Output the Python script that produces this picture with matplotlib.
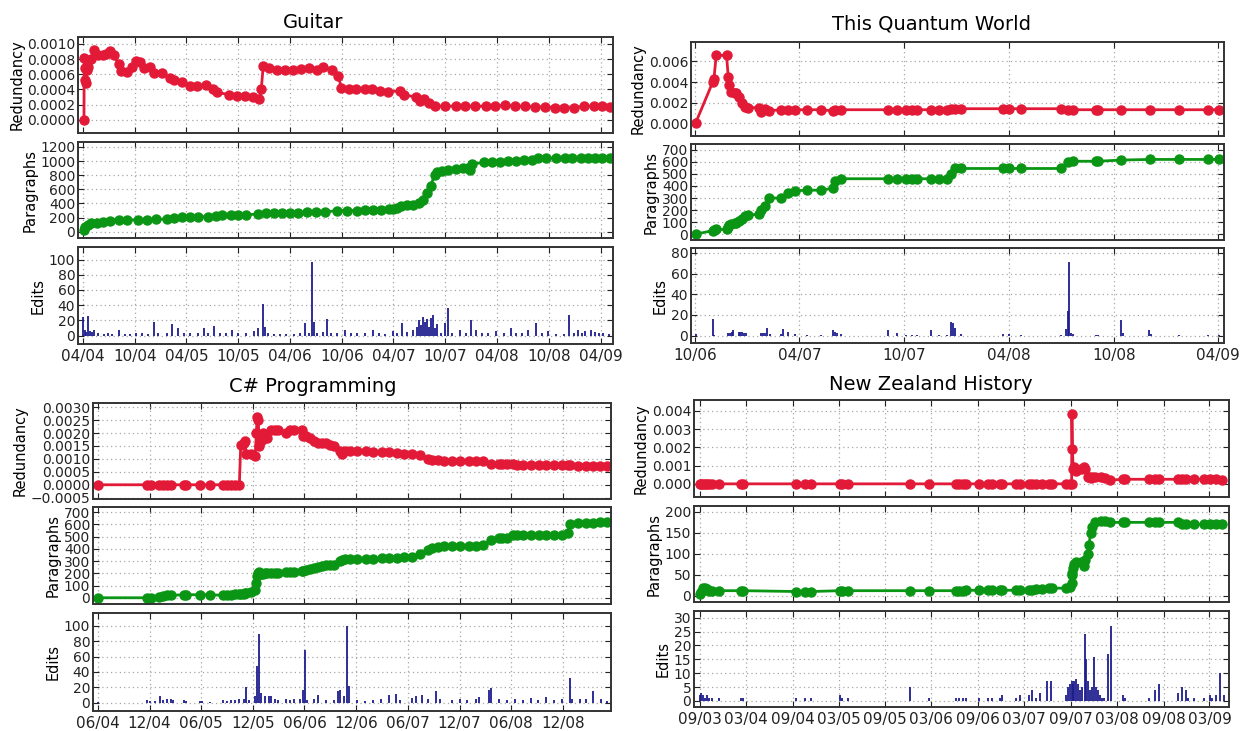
import matplotlib
matplotlib.use('Agg')
import matplotlib.pyplot as plt
import matplotlib.dates as mdates
import matplotlib.ticker as ticker
import pandas as pd

plt.rcParams['font.family'] = 'DejaVu Sans'

W, H = 1253, 731
RED = '#e31a37'
GREEN = '#0a9614'
BLUE = '#1c1c8e'

# ---------------- Guitar ----------------
guitar_red_dates = ['2004-04-05', '2004-04-06', '2004-04-08', '2004-04-10', '2004-04-12', '2004-04-15',
                    '2004-04-20', '2004-04-29', '2004-05-12', '2004-05-26', '2004-06-10', '2004-06-23',
                    '2004-07-07', '2004-07-21', '2004-08-05', '2004-08-12', '2004-09-02', '2004-09-23',
                    '2004-10-07', '2004-10-21', '2004-11-04', '2004-11-25', '2004-12-09', '2005-01-06',
                    '2005-02-04', '2005-02-18', '2005-03-16', '2005-04-13', '2005-05-10', '2005-06-08',
                    '2005-07-05', '2005-07-19', '2005-08-31', '2005-09-28', '2005-10-25', '2005-11-23',
                    '2005-12-14', '2005-12-21', '2005-12-28', '2006-01-18', '2006-02-16', '2006-03-15',
                    '2006-04-11', '2006-05-09', '2006-06-06', '2006-07-04', '2006-07-25', '2006-08-29',
                    '2006-09-19', '2006-09-29', '2006-10-25', '2006-11-21', '2006-12-20', '2007-01-17',
                    '2007-02-14', '2007-03-12', '2007-04-23', '2007-05-07', '2007-06-18', '2007-07-02',
                    '2007-07-16', '2007-08-06', '2007-08-27', '2007-10-01', '2007-11-06', '2007-12-10',
                    '2008-01-15', '2008-02-20', '2008-03-24', '2008-04-28', '2008-06-02', '2008-07-07',
                    '2008-08-11', '2008-09-15', '2008-10-20', '2008-11-24', '2008-12-29', '2009-02-02',
                    '2009-03-08', '2009-04-05', '2009-05-03']
guitar_red = [0.0, 0.00082, 0.00068, 0.00052, 0.00048, 0.00066,
              0.00070, 0.00080, 0.00092, 0.00085, 0.00085, 0.00086,
              0.00090, 0.00085, 0.00073, 0.00064, 0.00063, 0.00070,
              0.00077, 0.00076, 0.00068, 0.00070, 0.00062, 0.00062,
              0.00055, 0.00052, 0.00050, 0.00045, 0.00045, 0.00046,
              0.00040, 0.00036, 0.00033, 0.00031, 0.00031, 0.00030,
              0.00027, 0.00040, 0.00071, 0.00068, 0.00066, 0.00066,
              0.00066, 0.00067, 0.00068, 0.00066, 0.00070, 0.00066,
              0.00058, 0.00042, 0.00040, 0.00040, 0.00040, 0.00040,
              0.00038, 0.00037, 0.00038, 0.00033, 0.00030, 0.00025,
              0.00027, 0.00022, 0.00018, 0.00018, 0.00018, 0.00018,
              0.00018, 0.00018, 0.00018, 0.00019, 0.00018, 0.00018,
              0.00017, 0.00017, 0.00016, 0.00016, 0.00016, 0.00018,
              0.00018, 0.00018, 0.00017]

guitar_par_dates = ['2004-04-05', '2004-04-08', '2004-04-18', '2004-04-29', '2004-05-20', '2004-06-10',
                    '2004-07-05', '2004-08-05', '2004-09-05', '2004-10-14', '2004-11-15', '2004-12-15',
                    '2005-01-21', '2005-02-18', '2005-03-15', '2005-04-15', '2005-05-13', '2005-06-15',
                    '2005-07-15', '2005-08-05', '2005-09-05', '2005-10-01', '2005-10-28', '2005-12-09',
                    '2006-01-06', '2006-02-05', '2006-03-05', '2006-04-01', '2006-04-28', '2006-06-01',
                    '2006-07-01', '2006-08-04', '2006-09-15', '2006-10-20', '2006-11-24', '2006-12-20',
                    '2007-01-20', '2007-02-16', '2007-03-15', '2007-03-30', '2007-04-13', '2007-04-27',
                    '2007-05-20', '2007-06-08', '2007-06-29', '2007-07-13', '2007-07-27', '2007-08-10',
                    '2007-08-24', '2007-08-31', '2007-09-20', '2007-10-12', '2007-11-09', '2007-12-01',
                    '2007-12-21', '2007-12-26', '2008-01-04', '2008-02-15', '2008-03-15', '2008-04-11',
                    '2008-05-10', '2008-06-06', '2008-07-05', '2008-08-01', '2008-08-22', '2008-09-20',
                    '2008-10-24', '2008-11-25', '2008-12-20', '2009-01-20', '2009-02-15', '2009-03-12',
                    '2009-04-05', '2009-05-03']
guitar_par = [30, 70, 100, 120, 130, 140,
              150, 160, 165, 170, 172, 175,
              180, 200, 202, 205, 210, 215,
              222, 230, 232, 236, 240, 250,
              270, 270, 270, 270, 270, 272,
              275, 280, 300, 300, 300, 305,
              308, 310, 315, 320, 330, 370,
              375, 380, 400, 450, 550, 650,
              800, 850, 860, 870, 890, 895,
              900, 880, 960, 980, 985, 990,
              995, 1000, 1010, 1020, 1040, 1042,
              1045, 1045, 1048, 1048, 1050, 1050,
              1048, 1040]

guitar_edit_dates = ['2004-04-02', '2004-04-08', '2004-04-13', '2004-04-20', '2004-04-26', '2004-05-03',
                     '2004-05-12', '2004-05-26', '2004-06-16', '2004-06-30', '2004-07-14', '2004-08-05',
                     '2004-08-26', '2004-09-16', '2004-10-07', '2004-10-28', '2004-11-18', '2004-12-09',
                     '2004-12-23', '2005-01-21', '2005-02-11', '2005-03-04', '2005-03-25', '2005-04-15',
                     '2005-05-13', '2005-06-03', '2005-06-17', '2005-07-08', '2005-07-29', '2005-08-19',
                     '2005-09-10', '2005-09-30', '2005-10-28', '2005-11-25', '2005-12-09', '2005-12-26',
                     '2006-01-03', '2006-01-13', '2006-02-03', '2006-02-24', '2006-03-17', '2006-04-14',
                     '2006-05-05', '2006-05-23', '2006-06-09', '2006-06-19', '2006-06-26', '2006-07-07',
                     '2006-07-28', '2006-08-11', '2006-08-25', '2006-09-15', '2006-10-13', '2006-11-03',
                     '2006-11-24', '2006-12-22', '2007-01-19', '2007-02-09', '2007-03-02', '2007-03-30',
                     '2007-04-13', '2007-05-01', '2007-05-18', '2007-06-08', '2007-06-22', '2007-06-29',
                     '2007-07-06', '2007-07-13', '2007-07-20', '2007-07-27', '2007-08-03', '2007-08-10',
                     '2007-08-17', '2007-08-24', '2007-08-31', '2007-09-14', '2007-10-01', '2007-10-12',
                     '2007-10-26', '2007-11-23', '2007-12-14', '2007-12-31', '2008-01-18', '2008-02-08',
                     '2008-02-29', '2008-03-28', '2008-04-25', '2008-05-19', '2008-06-06', '2008-06-27',
                     '2008-07-18', '2008-08-15', '2008-09-05', '2008-09-26', '2008-10-24', '2008-11-21',
                     '2008-12-09', '2008-12-26', '2009-01-09', '2009-01-23', '2009-02-06', '2009-02-26',
                     '2009-03-12', '2009-03-26', '2009-04-09', '2009-04-30']
guitar_edits = [25, 8, 5, 26, 6, 5,
                7, 3, 2, 3, 2, 7,
                2, 2, 3, 4, 2, 18,
                3, 3, 15, 10, 4, 3,
                3, 10, 4, 13, 4, 3,
                8, 3, 3, 6, 10, 41,
                12, 4, 2, 2, 2, 2,
                3, 16, 3, 97, 18, 4,
                5, 22, 4, 3, 8, 3,
                4, 3, 8, 3, 2, 6,
                3, 16, 5, 8, 12, 20,
                14, 24, 18, 22, 12, 23,
                27, 10, 15, 4, 16, 36,
                4, 8, 3, 21, 8, 3,
                3, 6, 3, 10, 4, 3,
                8, 16, 3, 6, 2, 2,
                27, 3, 8, 3, 6, 8,
                5, 3, 4, 2]

# ---------------- This Quantum World ----------------
qw_dates = ['2006-10-02', '2006-11-01', '2006-11-03', '2006-11-07', '2006-11-25', '2006-11-28',
            '2006-11-30', '2006-12-02', '2006-12-09', '2006-12-12', '2006-12-16', '2006-12-22',
            '2006-12-27', '2007-01-02', '2007-01-20', '2007-01-24', '2007-01-31', '2007-02-07',
            '2007-02-28', '2007-03-12', '2007-03-24', '2007-04-14', '2007-05-08', '2007-05-29',
            '2007-06-02', '2007-06-13', '2007-09-03', '2007-09-19', '2007-10-05', '2007-10-15',
            '2007-10-24', '2007-11-16', '2007-12-01', '2007-12-14', '2007-12-21', '2007-12-28',
            '2008-01-08', '2008-03-22', '2008-03-31', '2008-04-22', '2008-07-01', '2008-07-12',
            '2008-07-22', '2008-08-30', '2008-09-04', '2008-10-14', '2008-12-03', '2009-01-23',
            '2009-03-14', '2009-04-03']
qw_red = [0.0, 0.0040, 0.0043, 0.0066, 0.0066, 0.0045,
          0.0037, 0.0030, 0.0029, 0.0029, 0.0025, 0.0020,
          0.0016, 0.0015, 0.0015, 0.0011, 0.0014, 0.0012,
          0.0013, 0.0013, 0.0013, 0.0013, 0.0013, 0.0012,
          0.0013, 0.0013, 0.0013, 0.0013, 0.0013, 0.0013,
          0.0013, 0.0013, 0.0013, 0.0013, 0.0014, 0.0014,
          0.0014, 0.0014, 0.0014, 0.0014, 0.0014, 0.0013,
          0.0013, 0.0013, 0.0013, 0.0013, 0.0013, 0.0013,
          0.0013, 0.0013]
qw_par = [0, 30, 35, 40, 40, 60,
          75, 85, 90, 90, 110, 130,
          150, 160, 165, 200, 230, 300,
          300, 340, 360, 365, 365, 380,
          440, 460, 460, 460, 460, 460,
          460, 460, 460, 460, 500, 545,
          545, 545, 545, 545, 545, 600,
          605, 605, 605, 615, 620, 620,
          620, 620]
qw_edit_dates = ['2006-10-02', '2006-11-01', '2006-11-04', '2006-11-28', '2006-12-01', '2006-12-04',
                 '2006-12-07', '2006-12-16', '2006-12-19', '2006-12-22', '2006-12-26', '2006-12-29',
                 '2007-01-24', '2007-01-28', '2007-01-31', '2007-02-03', '2007-02-09', '2007-02-28',
                 '2007-03-03', '2007-03-12', '2007-03-24', '2007-04-14', '2007-05-08', '2007-05-29',
                 '2007-06-02', '2007-06-06', '2007-06-13', '2007-09-03', '2007-09-19', '2007-10-05',
                 '2007-10-15', '2007-10-24', '2007-11-16', '2007-12-01', '2007-12-14', '2007-12-21',
                 '2007-12-25', '2007-12-28', '2008-01-08', '2008-03-22', '2008-03-31', '2008-04-22',
                 '2008-07-01', '2008-07-09', '2008-07-12', '2008-07-15', '2008-07-18', '2008-07-22',
                 '2008-08-30', '2008-09-04', '2008-10-14', '2008-10-16', '2008-12-02', '2008-12-05',
                 '2009-01-23', '2009-03-14', '2009-04-03']
qw_edits = [2, 16, 1, 3, 3, 4,
            5, 4, 4, 4, 3, 3,
            3, 3, 3, 7, 2, 2,
            6, 4, 2, 1, 1, 5,
            4, 3, 2, 5, 3, 1,
            1, 1, 5, 1, 1, 13,
            12, 7, 2, 2, 2, 1,
            1, 6, 24, 71, 3, 2,
            1, 1, 15, 3, 5, 2,
            1, 1, 1]

# ---------------- C# Programming ----------------
cs_dates = ['2004-06-03', '2004-11-22', '2004-12-06', '2005-01-03', '2005-01-17', '2005-01-31',
            '2005-02-14', '2005-04-02', '2005-04-09', '2005-05-27', '2005-07-01', '2005-08-19',
            '2005-09-02', '2005-09-16', '2005-09-30', '2005-10-14', '2005-10-19', '2005-10-31',
            '2005-11-04', '2005-11-06', '2005-11-25', '2005-12-09', '2005-12-13', '2005-12-16',
            '2005-12-20', '2005-12-23', '2005-12-26', '2005-12-30', '2006-01-06', '2006-01-13',
            '2006-01-20', '2006-02-03', '2006-02-17', '2006-03-01', '2006-03-29', '2006-04-12',
            '2006-04-26', '2006-05-24', '2006-05-27', '2006-06-08', '2006-06-21', '2006-07-03',
            '2006-07-18', '2006-08-01', '2006-08-15', '2006-08-30', '2006-09-13', '2006-10-03',
            '2006-10-10', '2006-10-24', '2006-11-10', '2006-12-05', '2007-01-05', '2007-01-30',
            '2007-03-01', '2007-03-25', '2007-04-25', '2007-05-20', '2007-06-17', '2007-07-14',
            '2007-08-12', '2007-08-25', '2007-09-15', '2007-10-06', '2007-11-05', '2007-12-01',
            '2008-01-02', '2008-01-27', '2008-02-23', '2008-03-21', '2008-04-18', '2008-04-30',
            '2008-05-16', '2008-06-06', '2008-06-20', '2008-07-11', '2008-08-10', '2008-09-05',
            '2008-10-02', '2008-10-30', '2008-11-28', '2008-12-18', '2008-12-25', '2009-01-22',
            '2009-02-18', '2009-03-17', '2009-04-10', '2009-05-05']
cs_red = [0.0, 0.0, 0.0, 0.0, 0.0, 0.0,
          0.0, 0.0, 0.0, 0.0, 0.0, 0.0,
          0.0, 0.0, 0.0, 0.0, 0.00155, 0.0016,
          0.0017, 0.0012, 0.0012, 0.0011, 0.0020, 0.0026,
          0.0025, 0.0015, 0.0019, 0.0017, 0.0020, 0.0018,
          0.0018, 0.0021, 0.0021, 0.0021, 0.0020, 0.0021,
          0.0021, 0.0021, 0.0019, 0.0019, 0.0018, 0.0017,
          0.0016, 0.0016, 0.0016, 0.00155, 0.0015, 0.0013,
          0.0012, 0.0013, 0.0013, 0.0013, 0.0013, 0.00125,
          0.00125, 0.00125, 0.00122, 0.0012, 0.0012, 0.00115,
          0.0010, 0.00095, 0.00094, 0.00093, 0.00093, 0.00093,
          0.00092, 0.00092, 0.0009, 0.0008, 0.0008, 0.0008,
          0.0008, 0.0008, 0.00078, 0.00078, 0.00078, 0.00078,
          0.00078, 0.00078, 0.00078, 0.00078, 0.00075, 0.00074,
          0.00074, 0.00073, 0.00073, 0.00072]
cs_par = [0, 0, 0, 10, 15, 20,
          20, 25, 25, 25, 25, 20,
          22, 25, 28, 30, 32, 33,
          35, 38, 45, 60, 120, 180,
          200, 215, 205, 195, 198, 200,
          200, 202, 203, 205, 208, 209,
          210, 220, 222, 228, 235, 242,
          250, 258, 265, 268, 270, 300,
          310, 315, 315, 315, 318, 320,
          322, 325, 328, 330, 330, 360,
          390, 410, 415, 420, 420, 420,
          420, 420, 435, 470, 490, 490,
          490, 515, 515, 515, 515, 515,
          515, 515, 515, 530, 600, 610,
          612, 615, 618, 620]
cs_edit_dates = ['2004-06-03', '2004-11-22', '2004-12-02', '2004-12-20', '2005-01-08', '2005-01-17',
                 '2005-01-31', '2005-02-14', '2005-02-21', '2005-04-02', '2005-04-09', '2005-05-27',
                 '2005-06-03', '2005-07-01', '2005-08-19', '2005-09-02', '2005-09-16', '2005-09-30',
                 '2005-10-14', '2005-10-31', '2005-11-06', '2005-11-18', '2005-12-09', '2005-12-16',
                 '2005-12-23', '2005-12-30', '2006-01-13', '2006-01-27', '2006-02-03', '2006-02-17',
                 '2006-03-01', '2006-03-29', '2006-04-12', '2006-04-26', '2006-05-17', '2006-05-27',
                 '2006-06-03', '2006-06-10', '2006-07-04', '2006-07-18', '2006-08-15', '2006-09-13',
                 '2006-09-27', '2006-10-05', '2006-10-17', '2006-10-31', '2006-11-07', '2006-12-05',
                 '2007-01-02', '2007-01-30', '2007-02-27', '2007-03-25', '2007-04-22', '2007-05-06',
                 '2007-06-17', '2007-07-01', '2007-07-21', '2007-08-12', '2007-09-08', '2007-09-22',
                 '2007-11-03', '2007-12-01', '2007-12-29', '2008-01-27', '2008-02-09', '2008-03-15',
                 '2008-03-21', '2008-04-18', '2008-05-16', '2008-06-13', '2008-07-11', '2008-08-08',
                 '2008-09-04', '2008-10-02', '2008-10-30', '2008-11-28', '2008-12-25', '2009-01-01',
                 '2009-01-29', '2009-02-19', '2009-03-17', '2009-04-14', '2009-05-05']
cs_edits = [1, 3, 2, 2, 9, 3,
            4, 4, 3, 3, 2, 2,
            2, 1, 3, 2, 3, 3,
            4, 4, 20, 3, 8, 48,
            89, 12, 8, 8, 9, 5,
            3, 4, 3, 5, 5, 17,
            68, 3, 5, 10, 3, 3,
            15, 16, 8, 100, 21, 3,
            2, 3, 4, 10, 11, 3,
            6, 8, 10, 4, 15, 5,
            3, 4, 3, 4, 7, 17,
            19, 4, 3, 4, 3, 6,
            3, 7, 3, 5, 32, 4,
            5, 4, 15, 4, 2]

# ---------------- New Zealand History ----------------
nz_dates = ['2003-09-02', '2003-09-06', '2003-09-14', '2003-09-21', '2003-09-29', '2003-10-07',
            '2003-10-20', '2003-11-16', '2004-02-12', '2004-02-20', '2004-09-14', '2004-10-20',
            '2004-11-12', '2005-03-07', '2005-03-15', '2005-04-05', '2005-12-08', '2006-02-21',
            '2006-06-08', '2006-06-19', '2006-07-02', '2006-07-17', '2006-09-05', '2006-10-09',
            '2006-10-28', '2006-11-26', '2006-12-04', '2007-01-30', '2007-02-14', '2007-03-19',
            '2007-04-01', '2007-04-17', '2007-05-11', '2007-06-08', '2007-06-20', '2007-08-15',
            '2007-08-31', '2007-09-05', '2007-09-06', '2007-09-08', '2007-09-11', '2007-09-16',
            '2007-09-24', '2007-10-10', '2007-10-22', '2007-10-29', '2007-11-08', '2007-11-12',
            '2007-11-19', '2007-11-26', '2007-12-05', '2007-12-29', '2008-01-14', '2008-02-02',
            '2008-03-25', '2008-04-02', '2008-07-07', '2008-07-31', '2008-08-16', '2008-10-27',
            '2008-11-12', '2008-11-28', '2008-12-30', '2009-02-08', '2009-03-02', '2009-03-26',
            '2009-04-19']
nz_red = [0.0, 0.0, 0.0, 0.0, 0.0, 0.0,
          0.0, 0.0, 0.0, 0.0, 0.0, 0.0,
          0.0, 0.0, 0.0, 0.0, 0.0, 0.0,
          0.0, 0.0, 0.0, 0.0, 0.0, 0.0,
          0.0, 0.0, 0.0, 0.0, 0.0, 0.0,
          0.0, 0.0, 0.0, 0.0, 0.0, 0.0,
          0.0, 0.0, 0.0038, 0.0019, 0.0008, 0.0009,
          0.0007, 0.0008, 0.0009, 0.0008, 0.0004, 0.00035,
          0.0003, 0.00035, 0.0004, 0.00035, 0.0003, 0.0002,
          0.00025, 0.00025, 0.00025, 0.00025, 0.00025, 0.00025,
          0.00025, 0.00025, 0.00025, 0.00025, 0.00025, 0.00025,
          0.0002]
nz_par = [5, 10, 18, 18, 15, 12,
          12, 12, 12, 12, 10, 10,
          10, 12, 12, 12, 12, 12,
          12, 12, 12, 13, 13, 13,
          13, 13, 13, 13, 13, 13,
          14, 15, 16, 18, 18, 18,
          20, 30, 50, 55, 65, 75,
          80, 80, 70, 85, 100, 120,
          150, 165, 175, 178, 178, 175,
          175, 175, 175, 175, 175, 175,
          170, 172, 170, 170, 170, 170,
          172]
nz_edit_dates = ['2003-09-02', '2003-09-06', '2003-09-14', '2003-09-21', '2003-09-29', '2003-10-07',
                 '2003-10-20', '2003-11-16', '2004-02-12', '2004-02-20', '2004-09-14', '2004-10-20',
                 '2004-11-12', '2005-03-07', '2005-03-15', '2005-04-05', '2005-12-08', '2006-02-21',
                 '2006-06-08', '2006-06-19', '2006-07-02', '2006-07-17', '2006-09-05', '2006-10-09',
                 '2006-10-28', '2006-11-26', '2006-12-04', '2007-01-30', '2007-02-14', '2007-03-19',
                 '2007-04-01', '2007-04-17', '2007-05-03', '2007-05-30', '2007-06-17', '2007-08-15',
                 '2007-08-23', '2007-08-31', '2007-09-05', '2007-09-10', '2007-09-14', '2007-09-21',
                 '2007-09-29', '2007-10-06', '2007-10-14', '2007-10-26', '2007-10-31', '2007-11-08',
                 '2007-11-16', '2007-11-24', '2007-12-01', '2007-12-09', '2007-12-17', '2007-12-25',
                 '2008-01-03', '2008-01-11', '2008-01-27', '2008-02-07', '2008-03-25', '2008-04-02',
                 '2008-07-07', '2008-07-31', '2008-08-16', '2008-10-27', '2008-11-12', '2008-11-28',
                 '2008-12-05', '2008-12-30', '2009-02-08', '2009-03-02', '2009-03-10', '2009-03-26',
                 '2009-04-11', '2009-04-27']
nz_edits = [2, 3, 2, 1, 2, 1,
            1, 1, 1, 1, 1, 1,
            1, 2, 1, 1, 5, 1,
            1, 1, 1, 1, 1, 1,
            1, 1, 2, 1, 2, 2,
            4, 1, 3, 7, 7, 2,
            5, 6, 7, 6, 7, 8,
            6, 4, 5, 24, 15, 7,
            4, 5, 16, 5, 4, 2,
            1, 1, 17, 27, 2, 1,
            1, 4, 6, 3, 5, 4,
            1, 1, 1, 2, 1, 2,
            10, 2]


def rect(l, r, t, b):
    return [l / W, 1 - b / H, (r - l) / W, (b - t) / H]


def fmt_func(decimals):
    def f(v, pos):
        s = f'{v:.{decimals}f}'
        if s.startswith('-') and float(s) == 0:
            s = s[1:]
        return s.replace('-', '\u2212')
    return ticker.FuncFormatter(f)


def style_axes(ax, months, xlim, ylim, step, decimals, show_dates):
    ax.set_xlim(pd.Timestamp(xlim[0]), pd.Timestamp(xlim[1]))
    ax.set_ylim(*ylim)
    ax.xaxis.set_major_locator(mdates.MonthLocator(bymonth=months))
    ax.xaxis.set_major_formatter(mdates.DateFormatter('%m/%y'))
    ax.yaxis.set_major_locator(ticker.MultipleLocator(step))
    ax.yaxis.set_major_formatter(fmt_func(decimals))
    ax.tick_params(direction='in', top=True, right=True, length=4, width=0.8,
                   colors='#222222')
    ax.tick_params(axis='y', labelsize=10, pad=2)
    ax.tick_params(axis='x', labelsize=11, labelbottom=show_dates)
    ax.grid(True, linestyle=(0, (1, 2.5)), color='#a8a8a8', linewidth=0.9)
    for sp in ax.spines.values():
        sp.set_linewidth(1.4)
        sp.set_color('#333333')


def draw_article(fig, title, box, rows, title_xy, xlim, months,
                 red_d, red_v, par_d, par_v, ed_d, ed_v, ylims, steps, decs):
    l, r = box
    ax1 = fig.add_axes(rect(l, r, *rows[0]))
    ax2 = fig.add_axes(rect(l, r, *rows[1]))
    ax3 = fig.add_axes(rect(l, r, *rows[2]))
    ax1.plot(pd.to_datetime(red_d), red_v, '-o', color=RED, lw=2, ms=6.5, mec=RED)
    ax2.plot(pd.to_datetime(par_d), par_v, '-o', color=GREEN, lw=2, ms=6.5, mec=GREEN)
    ax3.vlines(pd.to_datetime(ed_d), 0, ed_v, color=BLUE, lw=1.3)
    for i, ax in enumerate([ax1, ax2, ax3]):
        style_axes(ax, months, xlim, ylims[i], steps[i], decs[i], i == 2)
    ax1.set_ylabel('Redundancy', fontsize=10.5, labelpad=2)
    ax2.set_ylabel('Paragraphs', fontsize=10.5, labelpad=2)
    ax3.set_ylabel('Edits', fontsize=10.5, labelpad=2)
    fig.text(title_xy[0] / W, 1 - title_xy[1] / H, title, ha='center', va='center', fontsize=14)


fig = plt.figure(figsize=(W / 100, H / 100), dpi=100, facecolor='white')

draw_article(fig, 'Guitar', (78, 613), [(37, 133), (142, 238), (247, 344)], (313, 23),
             ('2004-03-15', '2009-05-14'), [4, 10],
             guitar_red_dates, guitar_red, guitar_par_dates, guitar_par,
             guitar_edit_dates, guitar_edits,
             [(-0.000174, 0.00109), (-89, 1270), (-11, 116.5)], [0.0002, 200, 20], [4, 0, 0])

draw_article(fig, 'This Quantum World', (691, 1224), [(42, 136), (144, 240), (248, 343)], (931, 24),
             ('2006-09-24', '2009-04-11'), [4, 10],
             qw_dates, qw_red, qw_dates, qw_par, qw_edit_dates, qw_edits,
             [(-0.00126, 0.0079), (-48, 748), (-7.1, 84.8)], [0.002, 100, 20], [3, 0, 0])

draw_article(fig, 'C# Programming', (93, 611), [(403, 499), (507, 604), (613, 711)], (313, 386),
             ('2004-05-15', '2009-05-19'), [6, 12],
             cs_dates, cs_red, cs_dates, cs_par, cs_edit_dates, cs_edits,
             [(-0.00055, 0.00316), (-51, 743), (-11, 116.7)], [0.0005, 100, 20], [4, 0, 0])

draw_article(fig, 'New Zealand History', (694, 1229), [(400, 497), (506, 602), (611, 707)], (931, 385),
             ('2003-08-09', '2009-05-17'), [3, 9],
             nz_dates, nz_red, nz_dates, nz_par, nz_edit_dates, nz_edits,
             [(-0.00072, 0.00459), (-15, 214), (-2.2, 32.4)], [0.001, 50, 5], [3, 0, 0])

fig.savefig('out.png', dpi=100, facecolor='white')
